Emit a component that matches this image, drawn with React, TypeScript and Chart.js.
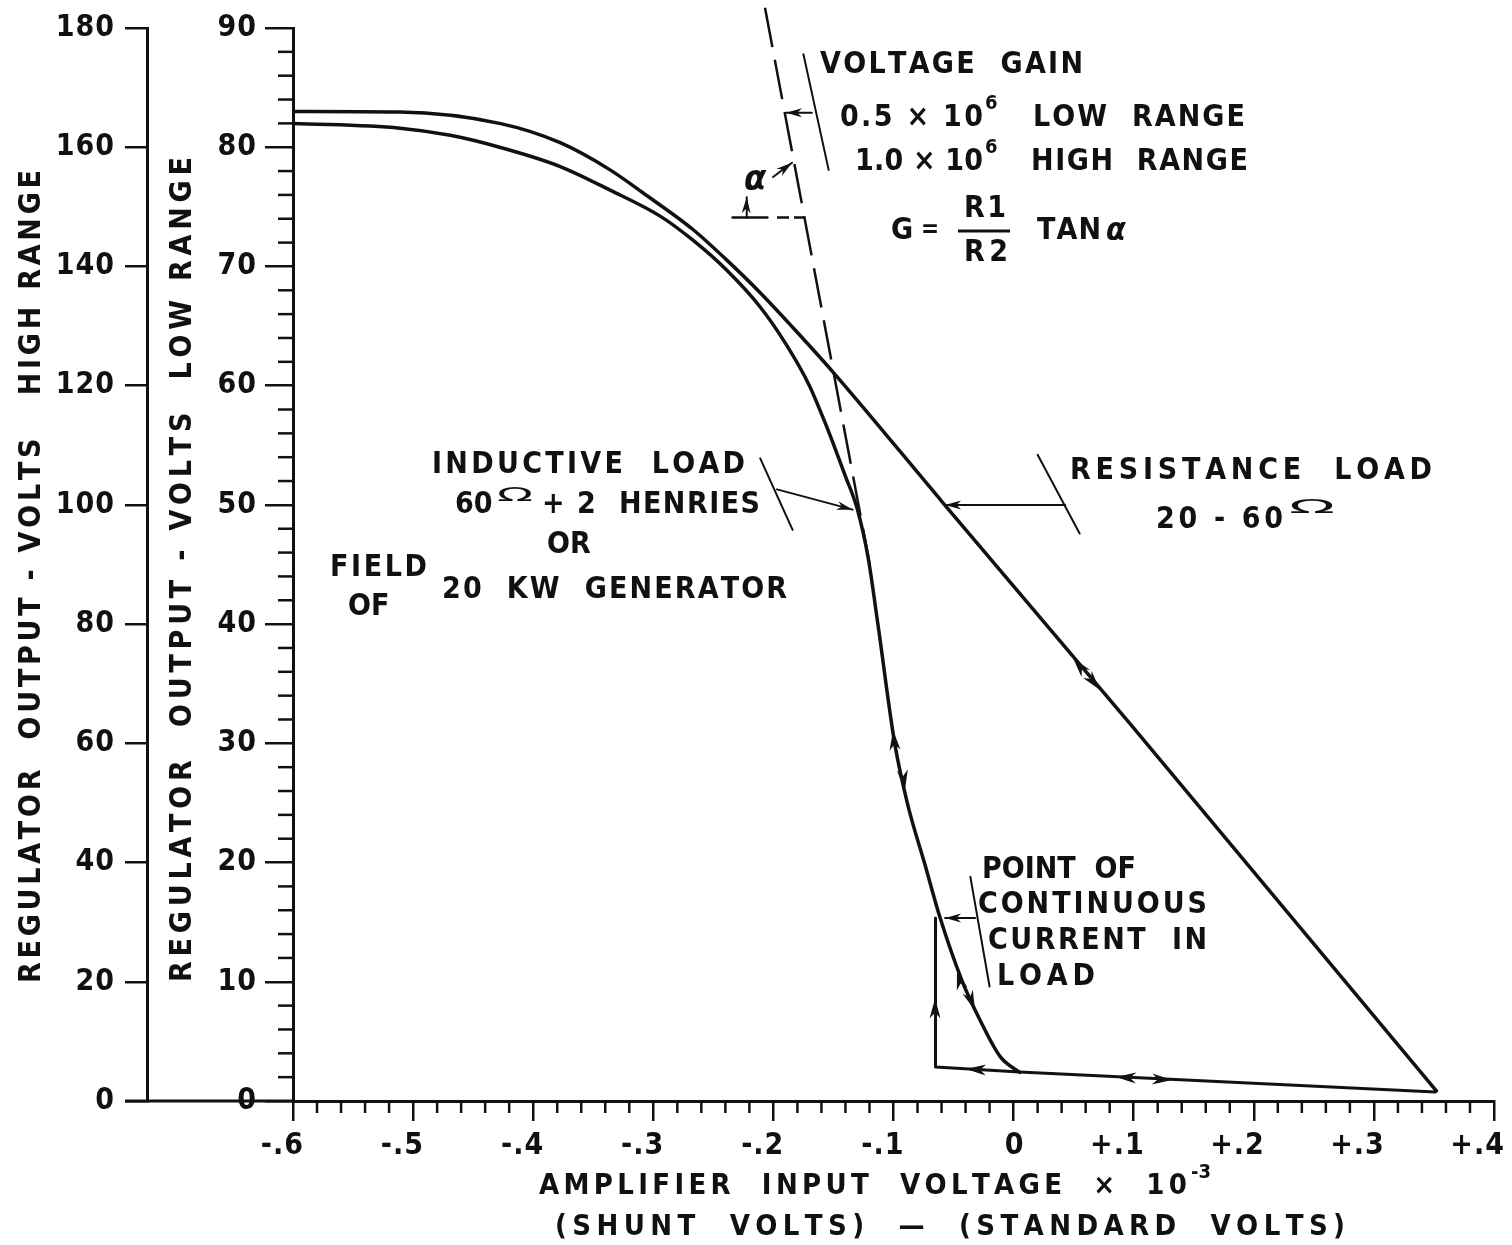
import React, { useEffect, useRef } from "react";
import { Chart, registerables } from "chart.js";

Chart.register(...registerables);

const W = 1512;
const H = 1245;
const INK = "#111";
const FAMILY = "'DejaVu Sans Condensed', 'DejaVu Sans', sans-serif";

// ---------- axis ticks ----------
const xTickValues = [-0.6, -0.5, -0.4, -0.3, -0.2, -0.1, 0, 0.1, 0.2, 0.3, 0.4];
const xTickLabels = ["-.6", "-.5", "-.4", "-.3", "-.2", "-.1", "0", "+.1", "+.2", "+.3", "+.4"];
const lowRangeTicks = [0, 10, 20, 30, 40, 50, 60, 70, 80, 90];
const highRangeTicks = [0, 20, 40, 60, 80, 100, 120, 140, 160, 180];
const xMinorStep = 0.02;
const yMinorStep = 2;

// ---------- curves (x = amplifier input volts x10^-3, y = low-range output volts) ----------
const resistanceX = [-0.6, -0.511, -0.428, -0.378, -0.336, -0.309, -0.267, -0.239, -0.211, -0.184, -0.15, -0.059, 0.099, 0.352];
const resistanceY = [83.0, 82.95, 82.0, 80.4, 78.1, 76.2, 73.1, 70.55, 67.8, 64.9, 61.1, 50.2, 31.4, 0.85];

const inductiveX = [-0.6, -0.511, -0.469, -0.428, -0.378, -0.336, -0.294, -0.267, -0.239, -0.211, -0.189, -0.17, -0.159, -0.15, -0.14, -0.13, -0.121, -0.113, -0.099, -0.088, -0.074, -0.061, -0.043, -0.028, -0.011, 0.005];
const inductiveY = [82.0, 81.6, 81.0, 80.0, 78.4, 76.4, 74.2, 72.2, 69.7, 66.6, 63.4, 60.0, 57.4, 55.1, 52.4, 49.6, 45.5, 40.0, 30.0, 24.8, 19.9, 15.3, 10.1, 6.8, 3.7, 2.4];

const returnX = [-0.065, -0.065, 0.005, 0.351];
const returnY = [15.35, 2.85, 2.43, 0.76];

const tangentX = [-0.207, -0.12];
const tangentY = [91.7, 45.1];

// ---------- pointer / leader lines ----------
const gainPointer = [[-0.175, 87.8], [-0.154, 78.1]];
const gainArrow = [[-0.168, 82.9], [-0.1895, 82.9]];
const alphaArrow = [[-0.2003, 77.5], [-0.1845, 78.7]];
const alphaRefSolid = [[-0.234, 74.1], [-0.205, 74.1]];
const alphaRefDashed = [[-0.197, 74.1], [-0.174, 74.1]];
const alphaTick = [[-0.2228, 74.1], [-0.2222, 75.8]];
const inductivePointer = [[-0.211, 53.9], [-0.184, 47.9]];
const inductiveArrow = [[-0.197, 51.3], [-0.134, 49.6]];
const resistancePointer = [[0.02, 54.2], [0.055, 47.6]];
const resistanceArrow = [[0.043, 50.0], [-0.057, 50.0]];
const continuousPointer = [[-0.036, 18.8], [-0.02, 9.6]];
const continuousArrow = [[-0.032, 15.35], [-0.057, 15.35]];

// arrow heads on the curves: [fromX, fromY, tipX, tipY]
const curveArrowHeads = [
  [0.057, 36.24, 0.0495, 37.16],
  [0.0645, 35.4, 0.072, 34.48],
  [-0.0979, 28.6, -0.1004, 31.1],
  [-0.0937, 28.6, -0.0904, 26.1],
  [-0.0421, 9.1, -0.0471, 11.0],
  [-0.038, 9.1, -0.0321, 7.6],
  [-0.0654, 6.2, -0.0654, 8.6],
  [-0.0238, 2.6, -0.0396, 2.68],
  [0.101, 1.93, 0.0853, 2.01],
  [0.1152, 1.85, 0.1319, 1.76],
];

// ---------- text layout: [text, left x, centre y, target width, size] ----------
const annotationText: [string, number, number, number, number][] = [
  ["VOLTAGE  GAIN", 820, 65, 263, 30],
  ["0.5 × 10", 840, 118, 143, 30],
  ["LOW  RANGE", 1033, 118, 212, 30],
  ["1.0 × 10", 855, 162, 128, 30],
  ["HIGH  RANGE", 1031, 162, 217, 30],
  ["G", 891, 231, 0, 30],
  ["=", 921, 231, 0, 24],
  ["R1", 964, 209, 42, 30],
  ["R2", 964, 253, 44, 30],
  ["TAN", 1037, 231, 64, 30],
  ["INDUCTIVE  LOAD", 432, 465, 313, 30],
  ["60", 455, 505, 0, 30],
  ["+ 2  HENRIES", 542, 505, 218, 30],
  ["OR", 547, 545, 0, 30],
  ["FIELD", 330, 568, 97, 30],
  ["20  KW  GENERATOR", 442, 590, 345, 30],
  ["OF", 348, 607, 0, 30],
  ["RESISTANCE  LOAD", 1070, 471, 362, 30],
  ["20 - 60", 1156, 520, 127, 30],
  ["POINT  OF", 982, 870, 140, 30],
  ["CONTINUOUS", 978, 905, 229, 30],
  ["CURRENT  IN", 988, 941, 219, 30],
  ["LOAD", 997, 977, 98, 30],
  ["AMPLIFIER  INPUT  VOLTAGE  ×  10", 539, 1186, 648, 29],
  ["(SHUNT  VOLTS)  —  (STANDARD  VOLTS)", 555, 1227, 790, 29],
];
const superscripts: [string, number, number, number][] = [
  ["6", 985, 104, 20],
  ["6", 985, 148, 20],
  ["-3", 1191, 1173, 20],
];
const greekText: [string, number, number, number][] = [
  ["α", 744, 181, 36],
  ["α", 1106, 232, 32],
];
const ohmSigns: [number, number, number, number][] = [
  [497, 496, 36, 14],
  [1289, 508, 46, 14],
];
const yTitles: [string, number, number, number][] = [
  ["REGULATOR  OUTPUT - VOLTS   HIGH RANGE", 32, 983, 170],
  ["REGULATOR  OUTPUT - VOLTS  LOW RANGE", 183, 982, 157],
];

const toPts = (xs: number[], ys: number[]) => xs.map((x, i) => ({ x, y: ys[i] }));
const pairPts = (p: number[][]) => p.map(([x, y]) => ({ x, y }));

function drawSpaced(ctx: CanvasRenderingContext2D, text: string, x: number, y: number, width: number, size: number, style = "bold") {
  ctx.font = `${style} ${size}px ${FAMILY}`;
  ctx.textAlign = "left";
  ctx.textBaseline = "middle";
  const chars = Array.from(text);
  const ws = chars.map((c) => ctx.measureText(c).width);
  const total = ws.reduce((a, b) => a + b, 0);
  let gap = width > 0 && chars.length > 1 ? (width - total) / (chars.length - 1) : 0;
  if (gap < 0) gap = 0;
  let cx = x;
  chars.forEach((c, i) => {
    ctx.fillText(c, cx, y);
    cx += ws[i] + gap;
  });
}

function arrowHead(ctx: CanvasRenderingContext2D, fx: number, fy: number, tx: number, ty: number, len = 20, half = 5.5) {
  const dx = tx - fx;
  const dy = ty - fy;
  const d = Math.hypot(dx, dy) || 1;
  const ux = dx / d;
  const uy = dy / d;
  const bx = tx - ux * len;
  const by = ty - uy * len;
  ctx.beginPath();
  ctx.moveTo(tx, ty);
  ctx.lineTo(bx - uy * half, by + ux * half);
  ctx.lineTo(tx - ux * len * 0.7, ty - uy * len * 0.7);
  ctx.lineTo(bx + uy * half, by - ux * half);
  ctx.closePath();
  ctx.fill();
}

const decor = {
  id: "decor",
  beforeDraw(chart: any) {
    chart.ctx.letterSpacing = "1px";
  },
  afterDraw(chart: any) {
    const ctx: CanvasRenderingContext2D = chart.ctx;
    const xs = chart.scales.x;
    const ys = chart.scales.y;
    const y2 = chart.scales.y2;
    ctx.save();
    (ctx as any).letterSpacing = "0px";
    ctx.strokeStyle = INK;
    ctx.fillStyle = INK;
    const base = ys.getPixelForValue(0);

    // x axis continued to the outer scale
    ctx.lineWidth = 3;
    ctx.beginPath();
    ctx.moveTo(y2.right - 22, base);
    ctx.lineTo(xs.left, base);
    ctx.stroke();

    // minor ticks
    ctx.lineWidth = 2.5;
    const nX = Math.round((xs.max - xs.min) / xMinorStep);
    for (let i = 1; i < nX; i++) {
      if (i % 5 === 0) continue;
      const px = xs.getPixelForValue(xs.min + i * xMinorStep);
      ctx.beginPath();
      ctx.moveTo(px, base);
      ctx.lineTo(px, base + 12);
      ctx.stroke();
    }
    const nY = Math.round((ys.max - ys.min) / yMinorStep);
    for (let i = 1; i < nY; i++) {
      if (i % 5 === 0) continue;
      const py = ys.getPixelForValue(ys.min + i * yMinorStep);
      ctx.beginPath();
      ctx.moveTo(ys.right - 15, py);
      ctx.lineTo(ys.right, py);
      ctx.stroke();
    }

    // arrow heads
    const px = (v: number) => xs.getPixelForValue(v);
    const py = (v: number) => ys.getPixelForValue(v);
    [gainArrow, alphaArrow, alphaTick, inductiveArrow, resistanceArrow, continuousArrow].forEach((a) => {
      arrowHead(ctx, px(a[0][0]), py(a[0][1]), px(a[1][0]), py(a[1][1]), 16, 4.5);
    });
    curveArrowHeads.forEach(([fx, fy, tx, ty]) => arrowHead(ctx, px(fx), py(fy), px(tx), py(ty)));

    // fraction bar of G = R1/R2 tan a
    ctx.lineWidth = 3;
    ctx.beginPath();
    ctx.moveTo(958, 231);
    ctx.lineTo(1010, 231);
    ctx.stroke();

    // texts
    annotationText.forEach(([t, x, y, w, s]) => drawSpaced(ctx, t, x, y, w, s));
    superscripts.forEach(([t, x, y, s]) => drawSpaced(ctx, t, x, y, 0, s));
    greekText.forEach(([t, x, y, s]) => drawSpaced(ctx, t, x, y, 0, s, "italic bold"));
    ohmSigns.forEach(([x, y, w, h]) => {
      ctx.save();
      ctx.font = `normal 26px ${FAMILY}`;
      ctx.textAlign = "left";
      ctx.textBaseline = "middle";
      const m = ctx.measureText("Ω").width;
      ctx.translate(x, y);
      ctx.scale(w / m, h / 19);
      ctx.fillText("Ω", 0, 0);
      ctx.restore();
    });
    yTitles.forEach(([t, cx, yb, yt]) => {
      ctx.save();
      ctx.translate(cx, yb);
      ctx.rotate(-Math.PI / 2);
      drawSpaced(ctx, t, 0, 0, yb - yt, 30);
      ctx.restore();
    });
    ctx.restore();
  },
};

function buildConfig(): any {
  const tickFont = { family: FAMILY, size: 30, weight: "bold" as const };
  const line = (data: any[], extra: any = {}) => ({
    data,
    borderColor: INK,
    backgroundColor: INK,
    borderWidth: 2,
    pointRadius: 0,
    fill: false,
    tension: 0,
    borderCapStyle: "round",
    borderJoinStyle: "round",
    ...extra,
  });
  const datasets = [
    line(toPts(resistanceX, resistanceY), { borderWidth: 3.5, cubicInterpolationMode: "monotone" }),
    line(toPts(inductiveX, inductiveY), { borderWidth: 3.5, cubicInterpolationMode: "monotone" }),
    line(toPts(returnX, returnY), { borderWidth: 3 }),
    line(toPts(tangentX, tangentY), { borderWidth: 2.5, borderDash: [40, 13], borderCapStyle: "butt", clip: false }),
    line(pairPts(gainPointer)),
    line(pairPts(gainArrow)),
    line(pairPts(alphaArrow)),
    line(pairPts(alphaRefSolid), { borderWidth: 2.5 }),
    line(pairPts(alphaRefDashed), { borderWidth: 2.5, borderDash: [12, 5], borderCapStyle: "butt" }),
    line(pairPts(alphaTick)),
    line(pairPts(inductivePointer)),
    line(pairPts(inductiveArrow)),
    line(pairPts(resistancePointer)),
    line(pairPts(resistanceArrow)),
    line(pairPts(continuousPointer)),
    line(pairPts(continuousArrow)),
  ];
  const grid = (len: number) => ({
    display: true,
    drawOnChartArea: false,
    drawTicks: true,
    tickLength: len,
    tickWidth: 2.5,
    tickColor: INK,
    color: INK,
    lineWidth: 2.5,
  });
  const border = { display: true, color: INK, width: 3 };
  return {
    type: "line",
    data: { datasets },
    options: {
      animation: false,
      responsive: false,
      devicePixelRatio: 1,
      events: [],
      layout: { autoPadding: false, padding: { left: 0, top: 28, right: 18, bottom: 0 } },
      plugins: { legend: { display: false }, tooltip: { enabled: false }, title: { display: false } },
      scales: {
        x: {
          type: "linear",
          position: "bottom",
          min: -0.6,
          max: 0.4,
          afterBuildTicks: (s: any) => {
            s.ticks = xTickValues.map((v) => ({ value: v }));
          },
          afterFit: (s: any) => {
            s.height = 144;
          },
          ticks: {
            autoSkip: false,
            maxRotation: 0,
            minRotation: 0,
            align: "end",
            labelOffset: 11,
            padding: 7,
            color: INK,
            font: tickFont,
            callback: (v: number) => {
              const i = xTickValues.findIndex((t) => Math.abs(t - v) < 1e-9);
              return i >= 0 ? xTickLabels[i] : "";
            },
          },
          grid: grid(20),
          border,
        },
        y: {
          type: "linear",
          position: "left",
          weight: 0,
          min: 0,
          max: 90,
          afterBuildTicks: (s: any) => {
            s.ticks = lowRangeTicks.map((v) => ({ value: v }));
          },
          afterFit: (s: any) => {
            s.width = 146;
          },
          ticks: { padding: 8, color: INK, font: tickFont, callback: (v: number) => String(v) },
          grid: grid(28),
          border,
        },
        y2: {
          type: "linear",
          position: "left",
          weight: 1,
          min: 0,
          max: 180,
          afterBuildTicks: (s: any) => {
            s.ticks = highRangeTicks.map((v) => ({ value: v }));
          },
          afterFit: (s: any) => {
            s.width = 147;
          },
          ticks: { padding: 10, color: INK, font: tickFont, callback: (v: number) => String(v) },
          grid: grid(22),
          border,
        },
      },
    },
    plugins: [decor],
  };
}

export default function App() {
  const ref = useRef<HTMLCanvasElement>(null);
  useEffect(() => {
    if (!ref.current) return;
    const chart = new Chart(ref.current, buildConfig());
    return () => chart.destroy();
  }, []);
  return (
    <div style={{ position: "fixed", left: 0, top: 0, width: W, height: H, background: "#fff" }}>
      <canvas ref={ref} width={W} height={H} style={{ width: W, height: H, display: "block" }} />
    </div>
  );
}
